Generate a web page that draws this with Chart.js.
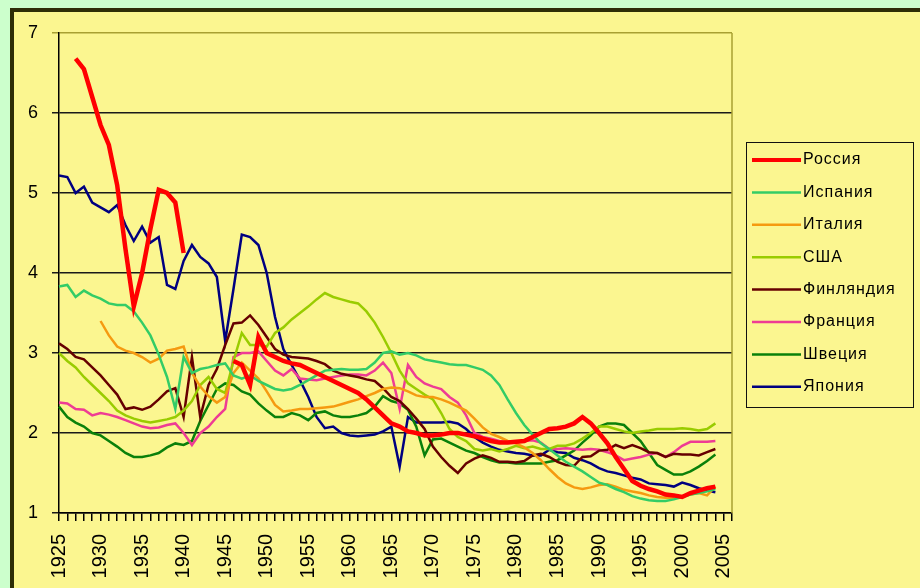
<!DOCTYPE html>
<html>
<head>
<meta charset="utf-8">
<script src="https://cdn.jsdelivr.net/npm/chart.js@4"></script>
<style>
  html, body { margin: 0; padding: 0; background: #ccffcc; overflow: hidden; }
  #frame { position: absolute; left: 10px; top: 8px; width: 1000px; height: 700px;
           border: 4px solid #2e2e06; background: #fbf690; }
  #wrap { position: absolute; left: 0; top: 0; width: 920px; height: 588px; }
</style>
</head>
<body>
<div id="frame"></div>
<div id="wrap"><canvas id="lineChart" width="920" height="588"></canvas></div>
<script>
const years = [];
for (let y = 1925; y <= 2006; y++) years.push(String(y));

const russia = [
  null, null, 6.68, 6.55, 6.2, 5.85, 5.6, 5.1, 4.3, 3.58,
  4.0, 4.55, 5.04, 5.0, 4.88, 4.25, null, null, null, null,
  null, 2.9, 2.85, 2.6, 3.2, 3.0, 2.95, 2.9, 2.87, 2.85,
  2.8, 2.75, 2.7, 2.65, 2.6, 2.55, 2.5, 2.42, 2.32, 2.22,
  2.12, 2.08, 2.02, 2.0, 1.97, 1.97, 1.98, 2.0, 2.0, 1.98,
  1.96, 1.93, 1.9, 1.88, 1.88, 1.89, 1.9, 1.95, 2.0, 2.05,
  2.06, 2.08, 2.12, 2.2, 2.12, 2.0, 1.87, 1.7, 1.55, 1.4,
  1.34, 1.3, 1.27, 1.23, 1.22, 1.2, 1.25, 1.28, 1.31, 1.33
];
const spain = [
  3.83, 3.85, 3.7, 3.78, 3.72, 3.68, 3.62, 3.6, 3.6, 3.52,
  3.38, 3.22, 2.98, 2.7, 2.3, 2.95, 2.75, 2.8, 2.82, 2.85,
  2.87, 2.72, 2.68, 2.72, 2.65, 2.6, 2.55, 2.53, 2.55, 2.6,
  2.66, 2.72, 2.78, 2.79, 2.8, 2.79, 2.79, 2.8, 2.88, 3.0,
  3.02, 2.98, 3.0, 2.97, 2.92, 2.9, 2.88, 2.86, 2.85, 2.85,
  2.82, 2.79, 2.72, 2.6, 2.42, 2.25, 2.1, 1.98, 1.87, 1.8,
  1.72, 1.64, 1.58, 1.52, 1.45, 1.38, 1.35, 1.3, 1.26, 1.21,
  1.18, 1.16, 1.15, 1.15, 1.17, 1.2, 1.23, 1.25, 1.27, 1.3
];
const italy = [
  null, null, null, null, null, 3.4, 3.22, 3.08, 3.03, 3.0,
  2.95, 2.88, 2.93, 3.03, 3.05, 3.08, 2.75, 2.58, 2.46, 2.38,
  2.45, 2.75, 2.88, 2.78, 2.68, 2.52, 2.35, 2.27, 2.28, 2.3,
  2.3, 2.31, 2.32, 2.33, 2.36, 2.39, 2.42, 2.46, 2.5, 2.55,
  2.57, 2.56, 2.52, 2.47, 2.45, 2.45, 2.42, 2.38, 2.33, 2.28,
  2.18, 2.07, 1.99, 1.95, 1.9, 1.87, 1.82, 1.75, 1.66, 1.55,
  1.45, 1.37, 1.32, 1.3, 1.32, 1.35, 1.36, 1.33, 1.29, 1.27,
  1.25, 1.22, 1.2, 1.19, 1.19, 1.21, 1.23, 1.25, 1.22, 1.33
];
const usa = [
  3.0, 2.9, 2.82, 2.7, 2.6, 2.5, 2.4, 2.28, 2.22, 2.18,
  2.15, 2.13, 2.15, 2.17, 2.2, 2.28, 2.4, 2.6, 2.7, 2.55,
  2.5, 2.9, 3.25, 3.1, 3.1, 3.08, 3.25, 3.32, 3.42, 3.5,
  3.58, 3.67, 3.75, 3.7, 3.67, 3.64, 3.62, 3.52, 3.38, 3.2,
  3.0, 2.78, 2.62, 2.55, 2.48, 2.42, 2.25, 2.05, 1.95, 1.9,
  1.8, 1.78, 1.8, 1.77, 1.8, 1.84, 1.81, 1.83, 1.8, 1.8,
  1.84, 1.84, 1.87, 1.93, 2.0, 2.08, 2.08, 2.05, 2.02, 2.0,
  2.02, 2.03, 2.05, 2.05, 2.05, 2.06, 2.05, 2.03, 2.05, 2.12
];
const finland = [
  3.12, 3.05, 2.95, 2.92, 2.82, 2.72, 2.6, 2.48, 2.3, 2.32,
  2.29, 2.33, 2.42, 2.52, 2.56, 2.2, 2.95, 2.2, 2.6, 2.8,
  3.1, 3.37, 3.38, 3.47, 3.35, 3.2, 3.05, 2.98, 2.95, 2.94,
  2.93, 2.9, 2.86, 2.78, 2.74, 2.72, 2.7, 2.67, 2.65, 2.56,
  2.45, 2.4, 2.3, 2.18, 2.05, 1.83, 1.7, 1.59, 1.5, 1.62,
  1.68, 1.72, 1.69, 1.64, 1.64, 1.63, 1.65, 1.72, 1.74, 1.7,
  1.64, 1.6, 1.59, 1.7, 1.71, 1.78, 1.79, 1.85, 1.81, 1.85,
  1.81, 1.76, 1.75, 1.7, 1.74, 1.73, 1.73, 1.72, 1.76, 1.8
];
const france = [
  2.38, 2.37, 2.3, 2.29, 2.22, 2.25, 2.23, 2.2, 2.16, 2.12,
  2.08, 2.06, 2.07, 2.1, 2.12, 2.0, 1.85, 2.0, 2.08, 2.2,
  2.3, 2.95, 3.0, 3.0, 3.02, 2.9, 2.78, 2.72, 2.8, 2.68,
  2.67, 2.66, 2.68, 2.7, 2.72, 2.73, 2.73, 2.72, 2.78, 2.88,
  2.75, 2.3, 2.85, 2.7, 2.62, 2.58, 2.55, 2.45, 2.38, 2.22,
  2.0, 1.95, 1.93, 1.9, 1.88, 1.88, 1.9, 1.91, 1.88, 1.8,
  1.8, 1.81, 1.8, 1.79, 1.8, 1.79, 1.76, 1.72, 1.66, 1.68,
  1.7, 1.73, 1.75, 1.7, 1.76, 1.84, 1.89, 1.89, 1.89, 1.9
];
const sweden = [
  2.33, 2.2, 2.13, 2.08, 2.0, 1.97, 1.9, 1.83, 1.75, 1.7,
  1.7, 1.72, 1.75, 1.82, 1.87, 1.85, 1.9, 2.15, 2.35, 2.55,
  2.62, 2.6, 2.52, 2.48, 2.37, 2.28, 2.2, 2.2, 2.25, 2.22,
  2.16, 2.25, 2.27, 2.22, 2.2, 2.2, 2.22, 2.25, 2.33, 2.46,
  2.4, 2.37, 2.29, 2.08, 1.72, 1.92, 1.93, 1.88, 1.83, 1.78,
  1.75, 1.7, 1.66, 1.63, 1.63, 1.62, 1.62, 1.62, 1.62, 1.64,
  1.66, 1.72, 1.78, 1.88, 1.97, 2.08, 2.12, 2.12, 2.1, 2.0,
  1.9, 1.75, 1.6, 1.54, 1.48, 1.48, 1.52, 1.58, 1.65, 1.73
];
const japan = [
  5.22, 5.2, 5.0, 5.08, 4.88, 4.82, 4.76, 4.85, 4.6, 4.4,
  4.58, 4.38, 4.45, 3.85, 3.8, 4.15, 4.35, 4.2, 4.12, 3.95,
  3.15, 3.8, 4.48, 4.45, 4.35, 4.0, 3.45, 3.05, 2.85, 2.66,
  2.45, 2.2, 2.06, 2.08, 2.0, 1.97, 1.96, 1.97, 1.98, 2.02,
  2.08, 1.58, 2.2, 2.13, 2.13, 2.13, 2.13, 2.14, 2.12, 2.05,
  1.95, 1.88, 1.83, 1.79, 1.77, 1.75, 1.74, 1.72, 1.72, 1.79,
  1.76, 1.75, 1.69, 1.66, 1.62, 1.56, 1.52, 1.5, 1.47, 1.44,
  1.42, 1.37, 1.36, 1.35, 1.33, 1.38, 1.35, 1.31, 1.28, 1.26
];

const fontFamily = '"Liberation Sans", Arial, sans-serif';

function series(label, values, color, width) {
  return {
    label: label,
    data: values,
    borderColor: color,
    backgroundColor: color,
    borderWidth: width,
    pointRadius: 0,
    tension: 0,
    fill: false
  };
}

const data = {
  labels: years,
  datasets: [
    series("Россия", russia, "#ff0000", 4.5),
    series("Испания", spain, "#33cc66", 2.5),
    series("Италия", italy, "#f59a10", 2.5),
    series("США", usa, "#99cc00", 2.5),
    series("Финляндия", finland, "#660000", 2.5),
    series("Франция", france, "#ee3c94", 2.5),
    series("Швеция", sweden, "#0a800a", 2.5),
    series("Япония", japan, "#000080", 2.5)
  ]
};

// legend box and right border of the plot area, drawn like the Excel original
const boxLegend = {
  id: "boxLegend",
  afterDraw(chart) {
    const c = chart.ctx;
    const area = chart.chartArea;
    c.save();
    c.strokeStyle = "#a8a032";
    c.lineWidth = 1.5;
    c.beginPath();
    c.moveTo(area.right, area.top);
    c.lineTo(area.right, area.bottom);
    c.stroke();

    c.strokeStyle = "#111";
    c.lineWidth = 1;
    c.strokeRect(746.5, 142.5, 167, 265);

    c.font = "16px " + fontFamily;
    c.textBaseline = "middle";
    c.fillStyle = "#000";
    if ("letterSpacing" in c) c.letterSpacing = "1px";
    chart.data.datasets.forEach((ds, i) => {
      const y = 160 + i * 32.4;
      c.strokeStyle = ds.borderColor;
      c.lineWidth = Math.min(ds.borderWidth, 4);
      c.beginPath();
      c.moveTo(752, y);
      c.lineTo(801, y);
      c.stroke();
      c.fillText(ds.label, 803, y);
    });
    c.restore();
  }
};

const options = {
  responsive: false,
  animation: false,
  layout: { padding: { top: 33, right: 188, left: 0, bottom: 0 } },
  plugins: {
    legend: { display: false },
    tooltip: { enabled: false }
  },
  scales: {
    x: {
      type: "category",
      offset: false,
      ticks: {
        autoSkip: false,
        minRotation: 90,
        maxRotation: 90,
        padding: 13,
        color: "#000",
        font: { size: 20, family: fontFamily },
        callback: function (val) {
          const y = Number(this.getLabelForValue(val));
          return y % 5 === 0 ? String(y) : "";
        }
      },
      grid: { drawOnChartArea: false, drawTicks: true, tickLength: 8, color: "#000", lineWidth: 1.5 },
      border: { color: "#000", width: 1.5 },
      afterFit: (s) => { s.height = 75; }
    },
    y: {
      min: 1,
      max: 7,
      ticks: {
        stepSize: 1,
        padding: 14,
        color: "#000",
        font: { size: 18, family: fontFamily }
      },
      grid: {
        color: (ctx) => (ctx.tick && ctx.tick.value === 7 ? "#a8a032" : "#1a1a1a"),
        lineWidth: 1.5,
        tickLength: 7
      },
      border: { color: "#000", width: 1.5 },
      afterFit: (s) => { s.width = 59; }
    }
  }
};

new Chart(document.getElementById("lineChart").getContext("2d"), {
  type: "line",
  data: data,
  options: options,
  plugins: [boxLegend]
});
</script>
</body>
</html>
